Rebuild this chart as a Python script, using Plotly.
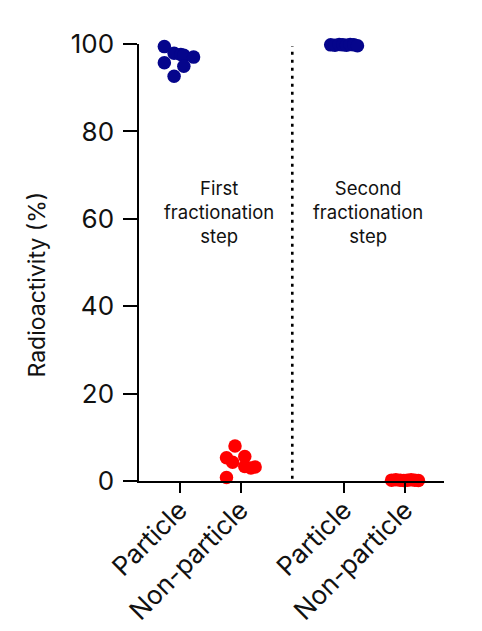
import plotly.graph_objects as go

# Category positions and labels
categories = ["Particle", "Non-particle", "Particle", "Non-particle"]
cat_pos = [0.0, 1.0, 2.7, 3.7]
step_labels = ["First<br>fractionation<br>step", "Second<br>fractionation<br>step"]
step_label_x = [0.65, 3.09]

# Values (radioactivity, %)
first_particle = [99.4, 97.9, 97.6, 97.4, 97.0, 95.7, 94.9, 92.6]
first_particle_jit = [-0.25, -0.09, 0.02, 0.07, 0.23, -0.25, 0.07, -0.09]
first_nonpart = [8.0, 5.6, 5.3, 4.3, 3.3, 3.2, 3.0, 0.8]
first_nonpart_jit = [-0.09, 0.07, -0.23, -0.13, 0.07, 0.24, 0.17, -0.23]
second_particle = [99.8, 99.7, 99.9, 99.8, 99.7, 99.9, 99.8, 99.6]
second_particle_jit = [-0.22, -0.15, -0.08, -0.02, 0.04, 0.10, 0.16, 0.22]
second_nonpart = [0.2, 0.3, 0.2, 0.1, 0.2, 0.3, 0.2, 0.1]
second_nonpart_jit = [-0.22, -0.15, -0.08, -0.02, 0.04, 0.10, 0.16, 0.22]

yticks = [0, 20, 40, 60, 80, 100]
divider_x = 1.85

navy = "#05058c"
red = "#ff0000"
font = "Inter"
txt = "#111111"

fig = go.Figure()

groups = [
    (cat_pos[0], first_particle, first_particle_jit, navy),
    (cat_pos[1], first_nonpart, first_nonpart_jit, red),
    (cat_pos[2], second_particle, second_particle_jit, navy),
    (cat_pos[3], second_nonpart, second_nonpart_jit, red),
]
for pos, vals, jit, col in groups:
    fig.add_trace(go.Scatter(
        x=[pos + j for j in jit], y=vals, mode="markers",
        marker=dict(color=col, size=13.5, line=dict(width=0)),
        cliponaxis=False, showlegend=False, hoverinfo="y",
    ))

fig.add_shape(type="line", x0=divider_x, x1=divider_x, y0=0.5, y1=99.5,
              xref="x", yref="y",
              line=dict(color="black", width=2.6, dash="3px,5px"))

for xl, lab in zip(step_label_x, step_labels):
    fig.add_annotation(x=xl, y=61.5, xref="x", yref="y", xanchor="center",
                       text=lab, showarrow=False,
                       font=dict(family=font, size=18.5, color=txt))

fig.add_annotation(x=-0.334, y=0.45, xref="paper", yref="paper",
                   xanchor="center", yanchor="middle",
                   text="Radioactivity (%)", textangle=-90, showarrow=False,
                   font=dict(family=font, size=23, color=txt))

fig.update_layout(
    width=482, height=631,
    margin=dict(l=131, r=46, t=36, b=158),
    plot_bgcolor="white", paper_bgcolor="white",
    font=dict(family=font, color=txt),
    xaxis=dict(
        range=[-0.666, 4.34], tickmode="array", tickvals=cat_pos, ticktext=categories,
        tickangle=-45, ticks="outside", ticklen=10, tickwidth=1.5, tickcolor="black",
        showline=True, linecolor="black", linewidth=1.5, showgrid=False, zeroline=False,
        tickfont=dict(family=font, size=26, color=txt), ticklabelstandoff=-8,
        automargin=False,
    ),
    yaxis=dict(
        range=[0, 100], tickmode="array", tickvals=yticks,
        ticks="outside", ticklen=14, tickwidth=1.5, tickcolor="black",
        showline=True, linecolor="black", linewidth=1.5, showgrid=False, zeroline=False,
        tickfont=dict(family=font, size=26, color=txt), ticklabelstandoff=4,
        automargin=False,
    ),
)

fig.write_html("out.html")
